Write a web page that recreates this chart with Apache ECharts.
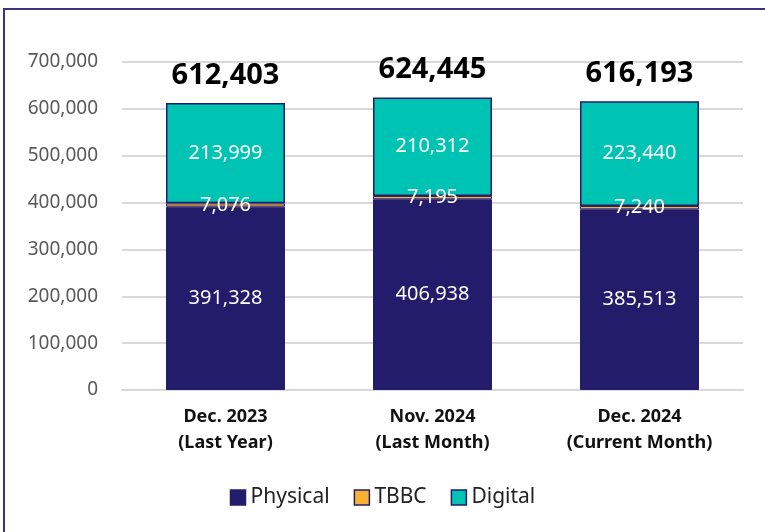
<!DOCTYPE html>
<html>
<head>
<meta charset="utf-8">
<script src="https://cdn.jsdelivr.net/npm/echarts@6/dist/echarts.min.js"></script>
<style>
  html, body { margin: 0; padding: 0; background: #fff; }
  #chart { width: 765px; height: 532px; }
</style>
</head>
<body>
<div id="chart"></div>
<script>
const categories = ['Dec. 2023\n(Last Year)', 'Nov. 2024\n(Last Month)', 'Dec. 2024\n(Current Month)']
const physical = [391328, 406938, 385513]
const tbbc = [7076, 7195, 7240]
const digital = [213999, 210312, 223440]
const totals = [612403, 624445, 616193]

const font = '"Noto Sans", sans-serif'
const edge = '#231d6b'
const fmt = (v) => v.toLocaleString('en-US')

const chart = echarts.init(document.getElementById('chart'))

const inner = {
  show: true,
  position: 'inside',
  color: '#fff',
  fontFamily: font,
  fontSize: 20,
  formatter: (p) => fmt(p.value)
}

chart.setOption({
  animation: false,
  textStyle: { fontFamily: font },
  graphic: [
    {
      type: 'rect',
      shape: { x: 4, y: 9, width: 900, height: 700 },
      style: { fill: 'none', stroke: '#3b3486', lineWidth: 2 },
      silent: true
    }
  ],
  grid: { left: 122, right: 22, top: 62, bottom: 142 },
  legend: {
    bottom: 19,
    left: 'center',
    itemWidth: 15,
    itemHeight: 15,
    itemGap: 24,
    icon: 'rect',
    data: ['Physical', 'TBBC', 'Digital'],
    itemStyle: { borderColor: edge, borderWidth: 1.5 },
    textStyle: { fontFamily: font, fontSize: 21, color: '#222' }
  },
  xAxis: {
    type: 'category',
    data: categories,
    axisTick: { show: false },
    axisLine: { lineStyle: { color: '#d9d9d9', width: 2 } },
    axisLabel: {
      margin: 14,
      fontFamily: font,
      fontSize: 18,
      fontWeight: 'bold',
      color: '#111',
      lineHeight: 26
    }
  },
  yAxis: {
    type: 'value',
    min: 0,
    max: 700000,
    interval: 100000,
    axisLine: { show: false },
    axisTick: { show: false },
    splitLine: { lineStyle: { color: '#d9d9d9', width: 2 } },
    axisLabel: {
      margin: 24,
      fontFamily: font,
      fontSize: 19,
      color: '#595959',
      formatter: (v) => fmt(v)
    }
  },
  series: [
    {
      name: 'Physical',
      type: 'bar',
      stack: 'all',
      barWidth: '57.5%',
      data: physical,
      itemStyle: { color: '#221c6b', borderColor: edge, borderWidth: 1 },
      label: inner
    },
    {
      name: 'TBBC',
      type: 'bar',
      stack: 'all',
      data: tbbc,
      itemStyle: { color: '#f7b233', borderColor: edge, borderWidth: 1 },
      label: inner
    },
    {
      name: 'Digital',
      type: 'bar',
      stack: 'all',
      data: digital,
      itemStyle: { color: '#00c4b3', borderColor: edge, borderWidth: 1.5 },
      label: inner
    },
    {
      name: 'Total',
      type: 'bar',
      stack: 'all',
      data: totals.map(() => 0),
      itemStyle: { color: 'transparent' },
      label: {
        show: true,
        position: 'top',
        distance: 13,
        color: '#000',
        fontFamily: font,
        fontSize: 29,
        fontWeight: 'bold',
        formatter: (p) => fmt(totals[p.dataIndex])
      }
    }
  ]
})
</script>
</body>
</html>
